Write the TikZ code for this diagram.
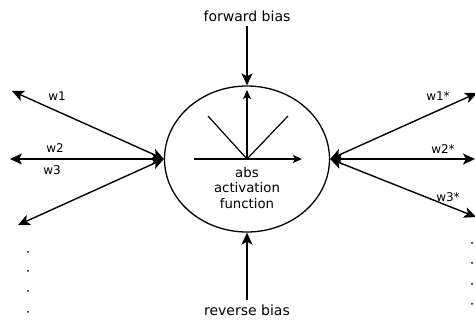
\documentclass[tikz,border=0pt]{standalone}
\usepackage{fontspec}
\setmainfont{DejaVu Sans}
\usetikzlibrary{arrows.meta,shapes.geometric}

\begin{document}
\begin{tikzpicture}[x=1pt,y=-1pt,
neuron/.style={draw,ellipse,line width=1.3pt,minimum width=165pt,minimum height=146pt,inner sep=0pt},
lbl/.style={font=\fontsize{12}{14}\selectfont,inner sep=1pt},
fnlbl/.style={font=\fontsize{13.3}{15.5}\selectfont,inner sep=1pt,align=center},
biaslbl/.style={font=\fontsize{14}{16}\selectfont,inner sep=1pt},
arr/.style={-{Stealth[length=12pt,width=11pt,inset=3pt]},line width=1.4pt},
darr/.style={{Stealth[length=12pt,width=11pt,inset=3pt]}-{Stealth[length=12pt,width=11pt,inset=3pt]},line width=1.4pt},
axis/.style={-{Stealth[length=9pt,width=8pt,inset=2pt]},line width=1.2pt}
]
\useasboundingbox (0,0) rectangle (475,323);

\node[neuron] (nrn) at (247,159) {};
\node[biaslbl] (fwd) at (247,16) {forward bias};
\node[biaslbl] (rev) at (247,310) {reverse bias};

% abs function inside
\coordinate (orig) at (247,159);
\draw[axis] (194,159) -- (302,159);
\draw[axis] (orig) -- (247,90);
\draw[line width=1.2pt] (208,116) -- (orig) -- (288,116);
\node[fnlbl] (fn) at (247,188) {abs\\activation\\function};

% bias inputs
\draw[arr] (fwd.south) ++(0,3) -- (nrn.north);
\draw[arr] (rev.north) ++(0,-3) -- (nrn.south);

% weights left
\coordinate (l1) at (12,91);
\coordinate (l2) at (10,159);
\coordinate (l3) at (18,225);
\draw[darr] (nrn.west) -- (l1);
\draw[darr] (nrn.west) -- (l2);
\draw[darr] (nrn.west) -- (l3);
\node[lbl] (w1) at (57,96) {w1};
\node[lbl] (w2) at (55,148) {w2};
\node[lbl] (w3) at (52,170) {w3};

% weights right
\coordinate (r1) at (477,93);
\coordinate (r2) at (475,159);
\coordinate (r3) at (476,217);
\draw[darr] (nrn.east) -- (r1);
\draw[darr] (nrn.east) -- (r2);
\draw[darr] (nrn.east) -- (r3);
\node[lbl] (w1s) at (438,96) {w1*};
\node[lbl] (w2s) at (443,149) {w2*};
\node[lbl] (w3s) at (448,197) {w3*};

% dots
\foreach \y in {252,271,291,312} \fill (28,\y) circle (1pt);
\foreach \y in {243,263,284,304} \fill (472,\y) circle (1pt);
\end{tikzpicture}
\end{document}
